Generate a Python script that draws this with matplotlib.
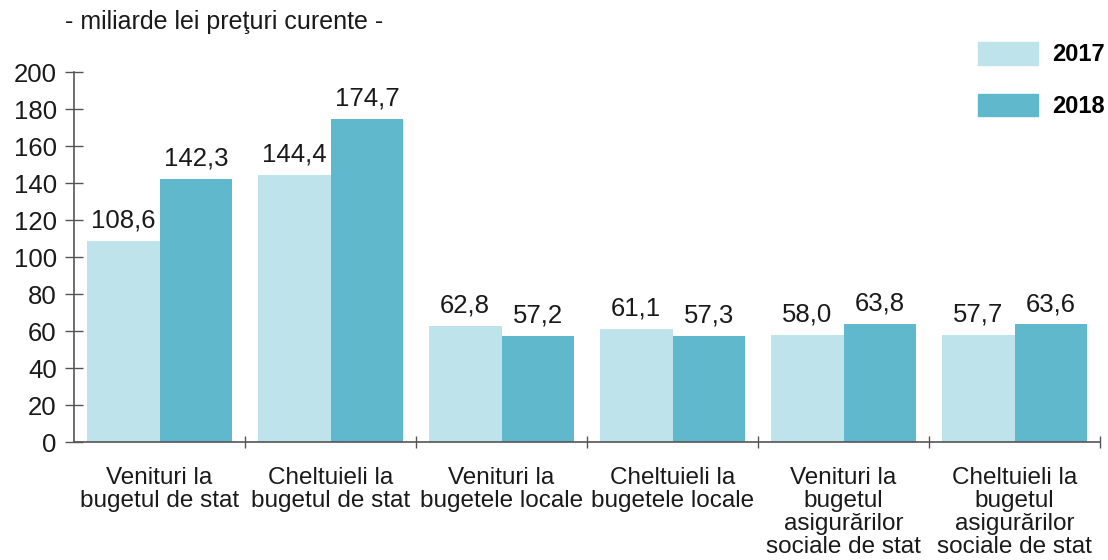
import numpy as np
import matplotlib.pyplot as plt
from matplotlib.patches import Patch

plt.rcParams['font.family'] = ['Liberation Sans', 'DejaVu Sans']

categories = ["Venituri la\nbugetul de stat",
              "Cheltuieli la\nbugetul de stat",
              "Venituri la\nbugetele locale",
              "Cheltuieli la\nbugetele locale",
              "Venituri la\nbugetul\nasigurărilor\nsociale de stat",
              "Cheltuieli la\nbugetul\nasigurărilor\nsociale de stat"]
values_2017 = [108.6, 144.4, 62.8, 61.1, 58.0, 57.7]
values_2018 = [142.3, 174.7, 57.2, 57.3, 63.8, 63.6]
years = ["2017", "2018"]
y_ticks = [0, 20, 40, 60, 80, 100, 120, 140, 160, 180, 200]

color_2017 = '#bee3ea'
color_2018 = '#5fb8cc'
axis_color = '#555555'
text_color = '#1a1a1a'

fig = plt.figure(figsize=(11.08, 5.6), dpi=100)
ax = fig.add_axes([0.0668, 0.2107, 0.9260, 0.6607])

x = np.arange(len(categories))
w = 0.425
bars1 = ax.bar(x - w / 2, values_2017, w, color=color_2017)
bars2 = ax.bar(x + w / 2, values_2018, w, color=color_2018)

def fmt(v):
    return f"{v:.1f}".replace('.', ',')

for bars, vals in [(bars1, values_2017), (bars2, values_2018)]:
    for b, v in zip(bars, vals):
        ax.annotate(fmt(v), (b.get_x() + b.get_width() / 2, v),
                    xytext=(0, 6), textcoords='offset points',
                    ha='center', va='bottom', fontsize=18.5, color=text_color)

ax.set_xlim(-0.5, len(categories) - 0.5)
ax.set_ylim(0, 200)
ax.set_yticks(y_ticks)
ax.tick_params(axis='y', direction='inout', length=13, width=1,
               color=axis_color, labelsize=18.5, pad=6, labelcolor=text_color)

ax.set_xticks(x)
ax.set_xticklabels(categories, fontsize=17.5, color=text_color, linespacing=1.06)
ax.tick_params(axis='x', length=0, pad=18)
ax.set_xticks(np.arange(0.5, len(categories) + 0.5, 1), minor=True)
ax.tick_params(axis='x', which='minor', direction='inout', length=8,
               width=1, color=axis_color)

for s in ['top', 'right']:
    ax.spines[s].set_visible(False)
for s in ['left', 'bottom']:
    ax.spines[s].set_color(axis_color)
    ax.spines[s].set_linewidth(1.2)

fig.text(0.059, 0.96, "- miliarde lei preţuri curente -", fontsize=18,
         ha='left', va='center', color=text_color)

handles = [Patch(color=color_2017), Patch(color=color_2018)]
ax.legend(handles, years, loc='upper left',
          bbox_to_anchor=(978 / 1108, 1 - 42 / 560),
          bbox_transform=fig.transFigure, frameon=False, borderpad=0,
          borderaxespad=0, handlelength=2.55, handleheight=1.1,
          labelspacing=1.15, handletextpad=0.6,
          prop={'weight': 'bold', 'size': 17})

fig.savefig("out.png", dpi=100)
